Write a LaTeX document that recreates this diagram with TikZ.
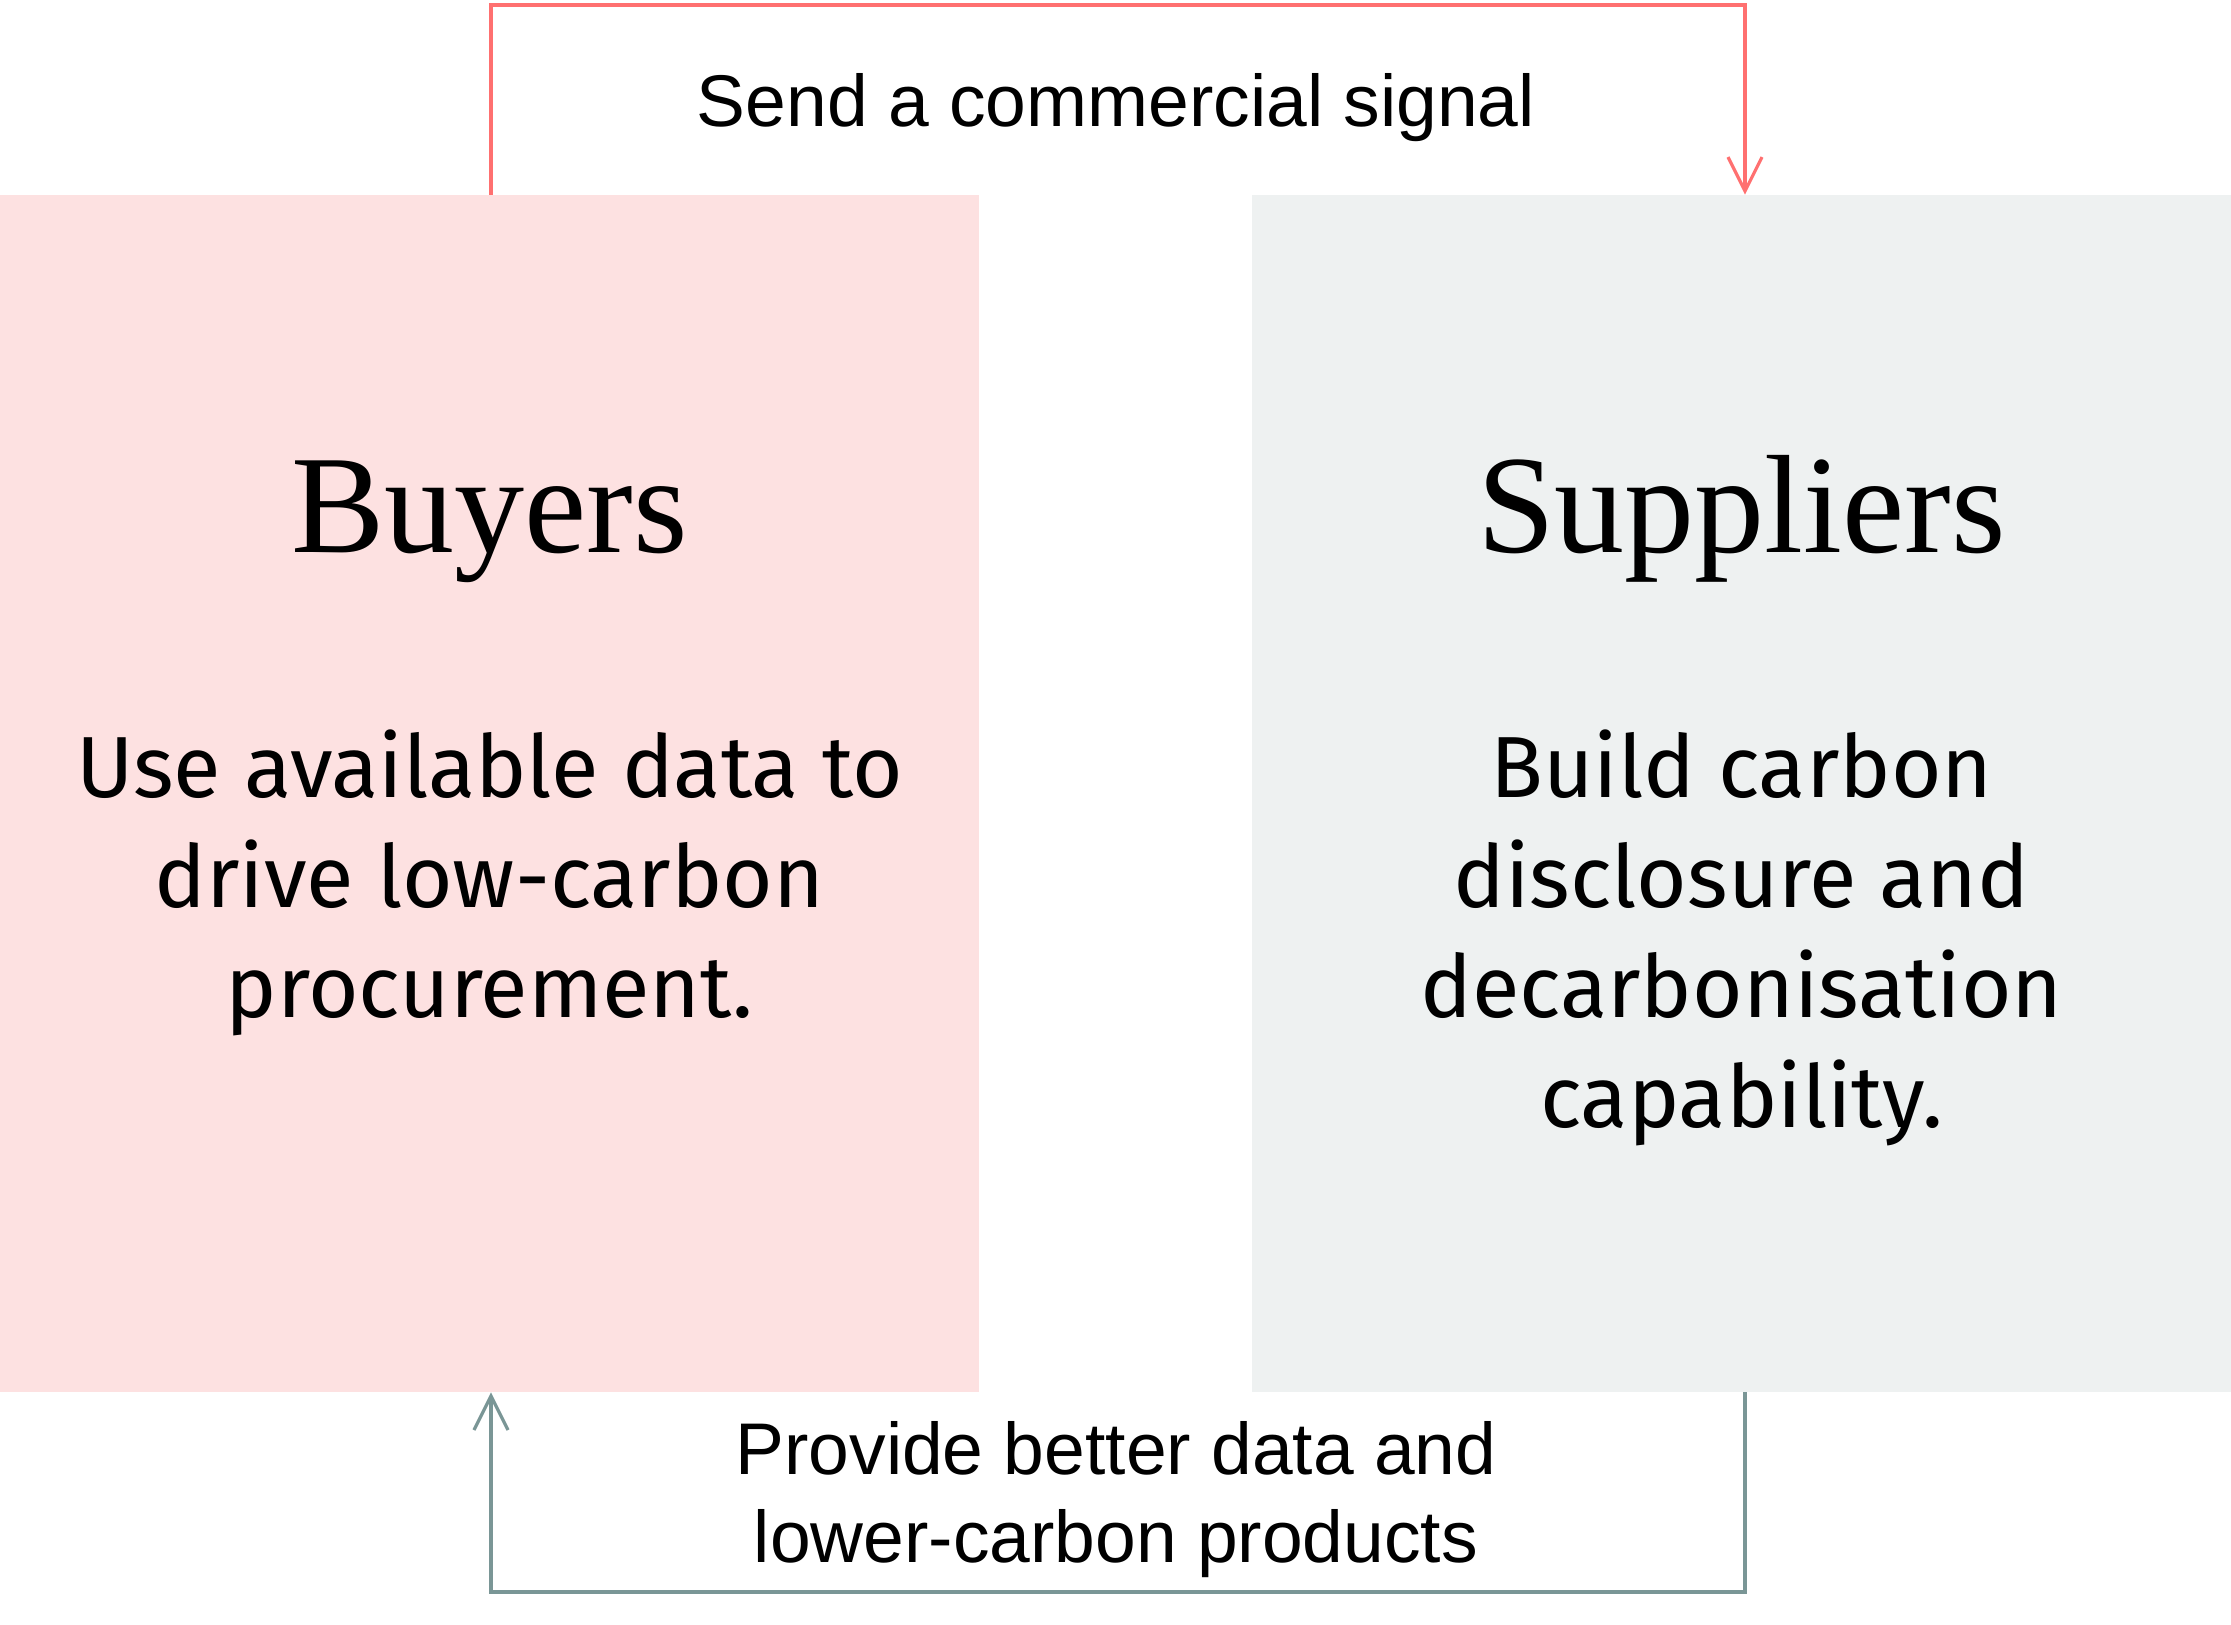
\documentclass[tikz,border=0pt]{standalone}
\usepackage{fontspec}
\setmainfont{Liberation Serif}
\newfontfamily\labelfont{Liberation Sans}
\newfontfamily\bodyfont{Fira Sans}
\usetikzlibrary{arrows.meta}
\definecolor{buyerfill}{RGB}{253,225,225}
\definecolor{supplierfill}{RGB}{238,241,241}
\definecolor{signalred}{RGB}{255,112,112}
\definecolor{returnteal}{RGB}{122,150,150}
\tikzset{
  panel/.style={draw=none, rectangle, inner sep=0pt, minimum width=489.5pt, minimum height=598.5pt},
  titletext/.style={font=\fontsize{70}{80}\selectfont, anchor=base, inner sep=0pt},
  bodytext/.style={font=\bodyfont\fontsize{43.4}{55}\selectfont, align=center, anchor=base, inner sep=0pt},
  flowlabel/.style={font=\labelfont\fontsize{36.6}{44}\selectfont, align=center, anchor=base, inner sep=0pt},
  flowline/.style={line width=2pt, -{Straight Barb[length=17pt, width=17pt, line width=1.6pt]}},
}
\begin{document}
\begin{tikzpicture}[x=0.5pt, y=-0.5pt]
\useasboundingbox[fill=white] (0,0) rectangle (2231,1624);
\node[panel, fill=buyerfill] (buyers) at (489.5,793.5) {};
\node[panel, fill=supplierfill] (suppliers) at (1741.5,793.5) {};
\node[titletext] (buyerstitle) at (489.5,552) {Buyers};
\node[titletext] (supplierstitle) at (1741.5,552) {Suppliers};
\node[bodytext] (buyersbody) at (489.5,1017) {Use available data to\\drive low-carbon\\procurement.};
\node[bodytext] (suppliersbody) at (1741.5,1127) {Build carbon\\disclosure and\\decarbonisation\\capability.};
\node[flowlabel] (signallabel) at (1116,126) {Send a commercial signal};
\node[flowlabel] (returnlabel) at (1116,1562) {Provide better data and\\lower-carbon products};
\coordinate (topleft) at (491,5);
\coordinate (botright) at (1745,1592);
\draw[flowline, signalred] (buyers.north -| topleft) -- (topleft) -| (suppliers.north -| botright);
\draw[flowline, returnteal] (suppliers.south -| botright) -- (botright) -| (buyers.south -| topleft);
\end{tikzpicture}
\end{document}
